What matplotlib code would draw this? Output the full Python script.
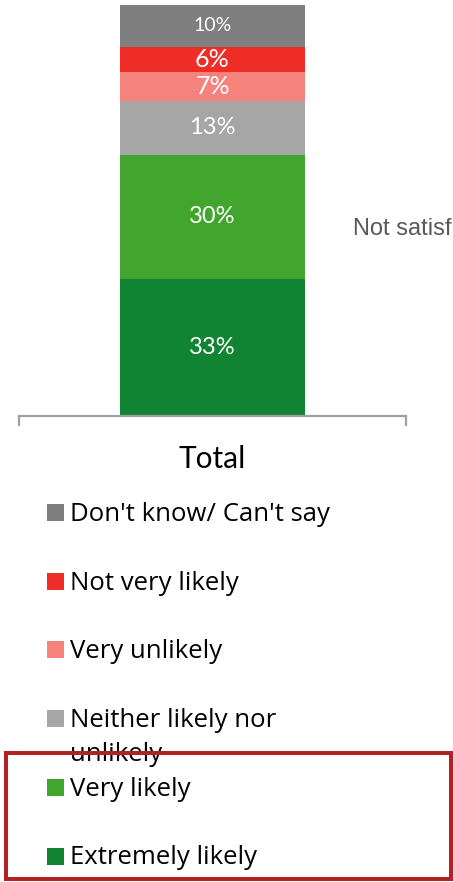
import matplotlib
matplotlib.use("Agg")
import matplotlib.pyplot as plt
from matplotlib.patches import Rectangle

# Survey data: one stacked column, stacked bottom-to-top
categories = ["Total"]
series = [
    "Extremely likely",
    "Very likely",
    "Neither likely nor\nunlikely",
    "Very unlikely",
    "Not very likely",
    "Don't know/ Can't say",
]
values = [33, 30, 13, 7, 6, 10]
side_note = "Not satisfied"

# Styling
colors = ["#108433", "#42A62E", "#A6A6A6", "#F5827D", "#EE2D27", "#7F7F7F"]
label_pt = [17, 17, 17, 18, 18, 14]
BODY_FONT = ["Lato", "DejaVu Sans"]
LEGEND_FONT = ["Open Sans", "DejaVu Sans"]

W, H = 453, 882
fig = plt.figure(figsize=(W / 100, H / 100), dpi=100)


def fx(px):
    return px / W


def fy(py):
    return 1 - py / H


ax = fig.add_axes([fx(19), fy(416), fx(406) - fx(19), fy(1) - fy(416)])
ax.set_xlim(-0.5, 0.5)
ax.set_ylim(0, 100)

bottom = 0
for val, col, fs in zip(values, colors, label_pt):
    bars = ax.bar(0, val, width=0.478, bottom=bottom, color=col, linewidth=0)
    ax.bar_label(bars, labels=[f"{val}%"], label_type="center",
                 color="white", fontsize=fs, family=BODY_FONT)
    bottom += val

for side in ("left", "right", "top"):
    ax.spines[side].set_visible(False)
ax.spines["bottom"].set_color("#A0A0A0")
ax.spines["bottom"].set_linewidth(1.6)
ax.set_yticks([])
ax.set_xticks([-0.5, 0.5], minor=True)
ax.tick_params(axis="x", which="minor", length=7.5, width=1.6,
               color="#A0A0A0", direction="out")
ax.set_xticks([0])
ax.set_xticklabels(categories, fontsize=21.5, family=BODY_FONT, color="black")
ax.tick_params(axis="x", which="major", length=0, pad=21)

# Partially visible annotation on the right
fig.text(fx(353), fy(229), side_note, fontsize=17, family="Liberation Sans",
         color="#595959", ha="left", va="center")

# Legend, listed top-down in reverse stacking order
row0, step, line_gap = 512.5, 68.7, 34
for i, (lab, col) in enumerate(zip(series[::-1], colors[::-1])):
    cy = row0 + step * i
    fig.add_artist(Rectangle((fx(47), fy(cy + 8.5)), fx(17), 17 / H,
                             transform=fig.transFigure, facecolor=col,
                             edgecolor="none"))
    for k, line in enumerate(lab.split("\n")):
        fig.text(fx(70), fy(cy + 8.5 + line_gap * k), line, fontsize=18.5,
                 family=LEGEND_FONT, color="black", ha="left", va="baseline")

# Highlight frame around the two "likely" entries
fig.add_artist(Rectangle((fx(5.5), fy(879)), fx(450.5) - fx(5.5),
                         (879 - 753) / H, transform=fig.transFigure,
                         facecolor="none", edgecolor="#B22222",
                         linewidth=2.9, zorder=10))

fig.savefig("out.png", dpi=100)
